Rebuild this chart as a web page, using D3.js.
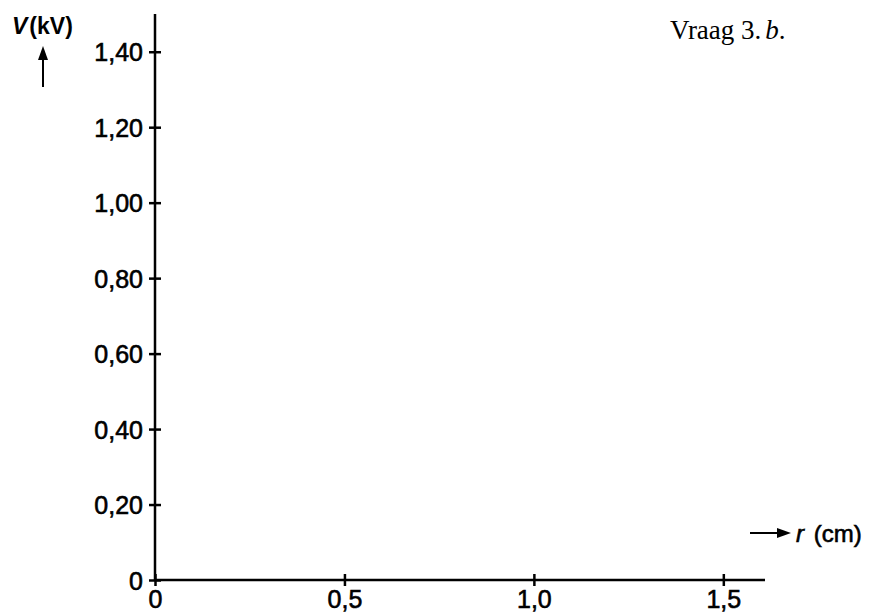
<!DOCTYPE html>
<html>
<head>
<meta charset="utf-8">
<script src="https://cdn.jsdelivr.net/npm/d3@7"></script>
<style>
	body { margin: 0; background: #fff; }
	svg text { font-family: "Liberation Sans", Arial, sans-serif; fill: #000; stroke: #000; stroke-width: 0.6px; }
</style>
</head>
<body>
<svg id="chart" width="872" height="612"></svg>
<script>

// Data

var xTicks = [0, 0.5, 1.0, 1.5];
var yTicks = [0, 0.20, 0.40, 0.60, 0.80, 1.00, 1.20, 1.40];
var xDomain = [0, 1.61];
var yDomain = [0, 1.5];

// Scales

var svg = d3.select("#chart");

var x = d3.scaleLinear().domain(xDomain).range([155, 765]);
var y = d3.scaleLinear().domain(yDomain).range([580, 14]);

function comma(fmt) {
	return function(d) { return d3.format(fmt)(d).replace(".", ","); };
}

// Y axis

var yAxis = svg.append("g")
	.attr("transform", "translate(" + x(0) + ",0)")
	.call(d3.axisLeft(y).tickValues(yTicks).tickSize(6).tickPadding(6)
		.tickFormat(function(d) { return d === 0 ? "0" : comma(".2f")(d); }));

yAxis.select(".domain").attr("stroke-width", 2.5).attr("d", "M0," + y(yDomain[1]) + "V" + y(0));
yAxis.selectAll(".tick line").attr("x1", -6).attr("x2", 6).attr("stroke-width", 2.5);
yAxis.selectAll(".tick text").style("font-size", "25px").attr("dy", "0.36em");

// X axis

var xAxis = svg.append("g")
	.attr("transform", "translate(0," + y(0) + ")")
	.call(d3.axisBottom(x).tickValues(xTicks).tickSize(6).tickPadding(4)
		.tickFormat(function(d) { return d === 0 ? "0" : comma(".1f")(d); }));

xAxis.select(".domain").attr("stroke-width", 2.5).attr("d", "M" + x(0) + ",0H" + x(xDomain[1]));
xAxis.selectAll(".tick line").attr("y1", -6).attr("y2", 6).attr("stroke-width", 2.5);
xAxis.selectAll(".tick text").style("font-size", "25px");

// Labels

var yLabel = svg.append("text").attr("x", 12).attr("y", 34).style("font-size", "23px").style("font-weight", "bold").style("stroke-width", "0");
yLabel.append("tspan").style("font-style", "italic").text("V");
yLabel.append("tspan").attr("dx", 2).text("(kV)");

svg.append("line").attr("x1", 43).attr("x2", 43).attr("y1", 87).attr("y2", 56)
	.attr("stroke", "#000").attr("stroke-width", 2);
svg.append("path").attr("d", "M43,46 L38,60 L48,60 Z").attr("fill", "#000");

svg.append("line").attr("x1", 750).attr("x2", 778).attr("y1", 533).attr("y2", 533)
	.attr("stroke", "#000").attr("stroke-width", 2);
svg.append("path").attr("d", "M791,533 L777,528 L777,538 Z").attr("fill", "#000");

var xLabel = svg.append("text").attr("x", 796).attr("y", 542).style("font-size", "24px");
xLabel.append("tspan").style("font-style", "italic").text("r");
xLabel.append("tspan").attr("dx", 3).text(" (cm)");

var title = svg.append("text").attr("x", 670).attr("y", 39)
	.style("font-family", "'Liberation Serif', 'Times New Roman', serif").style("font-size", "27px").style("stroke-width", "0");
title.append("tspan").text("Vraag 3.");
title.append("tspan").style("font-style", "italic").attr("dx", 4).text("b");
title.append("tspan").text(".");

</script>
</body>
</html>
